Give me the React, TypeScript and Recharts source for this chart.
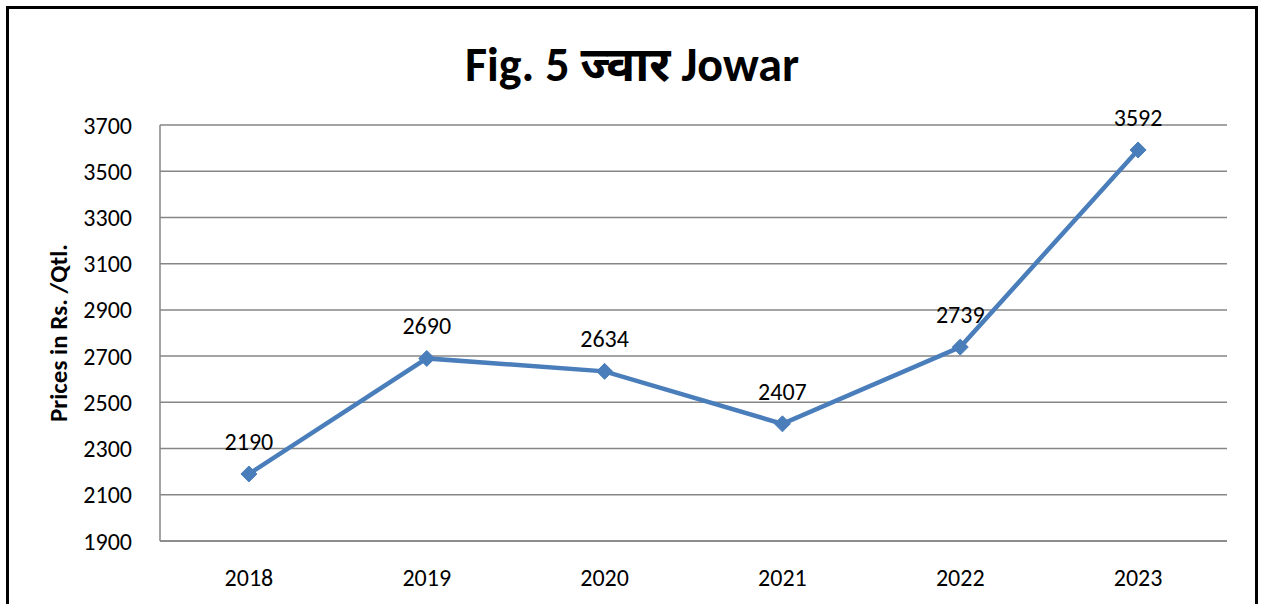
import { CartesianGrid, LabelList, Line, LineChart, XAxis, YAxis } from "recharts";

const years = ["2018", "2019", "2020", "2021", "2022", "2023"];
const prices = [2190, 2690, 2634, 2407, 2739, 3592];
const yTicks = [1900, 2100, 2300, 2500, 2700, 2900, 3100, 3300, 3500, 3700];

const data = years.map((year, i) => ({ year, price: prices[i] }));

const FONT = "Carlito, Lato, 'Noto Sans', sans-serif";
const LINE = "#4a7ebb";

const Diamond = (props: any) => {
  const { cx, cy } = props;
  if (cx == null || cy == null) return null;
  const r = 8;
  return (
    <path
      d={`M${cx},${cy - r}L${cx + r},${cy}L${cx},${cy + r}L${cx - r},${cy}Z`}
      fill={LINE}
      stroke={LINE}
      strokeWidth={1}
    />
  );
};

export default function App() {
  return (
    <div
      style={{
        position: "absolute",
        left: 0,
        top: 0,
        width: 1264,
        height: 604,
        background: "#fff",
        overflow: "hidden",
        fontFamily: FONT
      }}
    >
      <div
        style={{
          position: "absolute",
          left: 6,
          top: 6,
          width: 1246,
          height: 700,
          border: "3px solid #000"
        }}
      />
      <div
        style={{
          position: "absolute",
          left: 0,
          width: 1264,
          top: 36,
          textAlign: "center",
          fontSize: 48,
          fontWeight: 700,
          lineHeight: "58px",
          color: "#000"
        }}
      >
        Fig. 5 ज्वार Jowar
      </div>
      <div style={{ position: "absolute", left: 0, top: 0 }}>
        <LineChart
          width={1264}
          height={604}
          data={data}
          margin={{ top: 125, right: 37, bottom: 0, left: 0 }}
        >
          <CartesianGrid vertical={false} stroke="#868686" strokeWidth={1.5} />
          <XAxis
            dataKey="year"
            scale="band"
            height={63}
            axisLine={{ stroke: "#868686", strokeWidth: 1.5 }}
            tickLine={false}
            tick={{ fill: "#000", fontSize: 24, fontFamily: FONT }}
            tickMargin={22}
          />
          <YAxis
            width={160}
            domain={[1900, 3700]}
            ticks={yTicks}
            interval={0}
            axisLine={{ stroke: "#868686", strokeWidth: 1.5 }}
            tickLine={false}
            tick={{ fill: "#000", fontSize: 24, fontFamily: FONT }}
            tickMargin={22}
            label={{
              value: "Prices in Rs. /Qtl.",
              angle: -90,
              position: "insideLeft",
              offset: 58,
              style: {
                textAnchor: "middle",
                fontWeight: 700,
                fontSize: 25,
                fill: "#000",
                fontFamily: FONT
              }
            }}
          />
          <Line
            type="linear"
            dataKey="price"
            stroke={LINE}
            strokeWidth={4.5}
            dot={<Diamond />}
            activeDot={false}
            isAnimationActive={false}
          >
            <LabelList
              dataKey="price"
              position="top"
              offset={24}
              style={{ fill: "#000", fontSize: 24, fontFamily: FONT }}
            />
          </Line>
        </LineChart>
      </div>
    </div>
  );
}
